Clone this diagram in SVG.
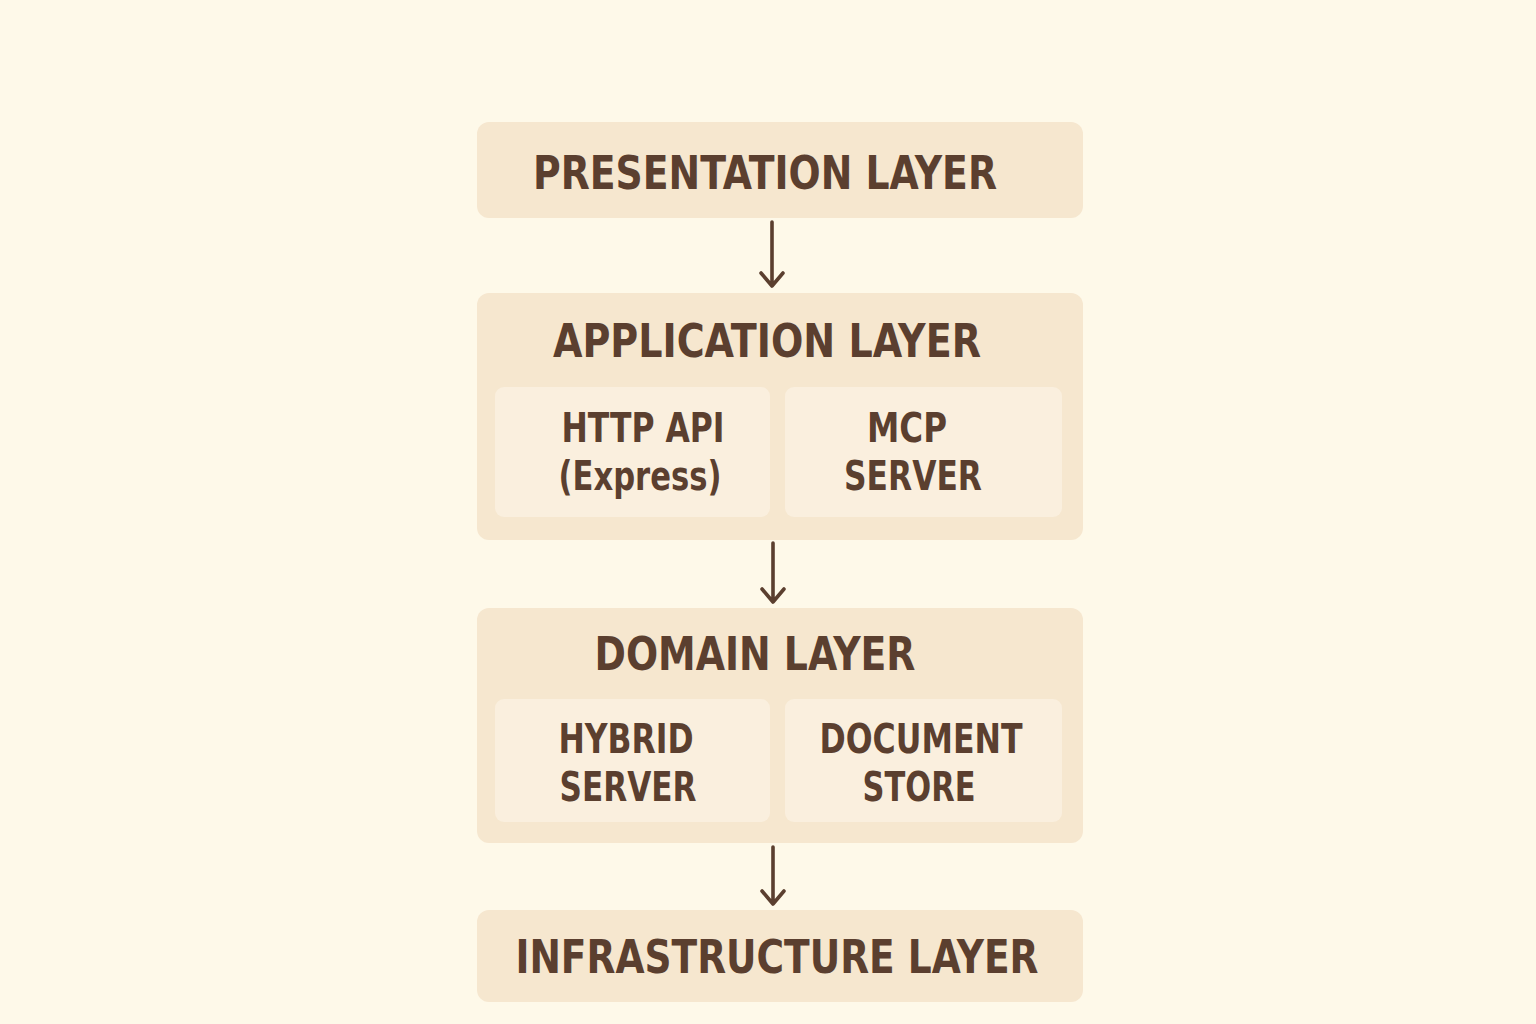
<svg xmlns="http://www.w3.org/2000/svg" width="1536" height="1024" viewBox="0 0 1536 1024">
<defs>
<style>
.bg{fill:#FEF9E9}
.outer{fill:#F6E7CF}
.inner{fill:#FAEFDE}
.t{font-family:"DejaVu Sans Condensed","DejaVu Sans",sans-serif;font-weight:bold;fill:#5B3F2F;text-anchor:middle}
.big{font-size:47px}
.sm{font-size:41px}
.conn{stroke:#5B3F2F;stroke-width:3.6;fill:none;stroke-linecap:round;stroke-linejoin:round}
</style>
</defs>
<rect class="bg" x="0" y="0" width="1536" height="1024"/>
<g id="presentation">
<rect class="outer" x="477" y="122" width="606" height="96" rx="12"/>
<text class="t big" x="765" y="189" textLength="464" lengthAdjust="spacingAndGlyphs">PRESENTATION LAYER</text>
</g>
<g id="application">
<rect class="outer" x="477" y="293" width="606" height="247" rx="12"/>
<text class="t big" x="767" y="357" textLength="428" lengthAdjust="spacingAndGlyphs">APPLICATION LAYER</text>
<g id="http-api">
<rect class="inner" x="495" y="387" width="275" height="130" rx="9"/>
<text class="t sm" x="643" y="442" textLength="163" lengthAdjust="spacingAndGlyphs">HTTP API</text>
<text class="t sm" x="640" y="490" textLength="163" lengthAdjust="spacingAndGlyphs">(Express)</text>
</g>
<g id="mcp-server">
<rect class="inner" x="785" y="387" width="277" height="130" rx="9"/>
<text class="t sm" x="907" y="442" textLength="80" lengthAdjust="spacingAndGlyphs">MCP</text>
<text class="t sm" x="913" y="490" textLength="138" lengthAdjust="spacingAndGlyphs">SERVER</text>
</g>
</g>
<g id="domain">
<rect class="outer" x="477" y="608" width="606" height="235" rx="12"/>
<text class="t big" x="755" y="670" textLength="321" lengthAdjust="spacingAndGlyphs">DOMAIN LAYER</text>
<g id="hybrid-server">
<rect class="inner" x="495" y="699" width="275" height="123" rx="9"/>
<text class="t sm" x="626" y="753" textLength="135" lengthAdjust="spacingAndGlyphs">HYBRID</text>
<text class="t sm" x="628" y="801" textLength="137" lengthAdjust="spacingAndGlyphs">SERVER</text>
</g>
<g id="document-store">
<rect class="inner" x="785" y="699" width="277" height="123" rx="9"/>
<text class="t sm" x="921" y="753" textLength="203" lengthAdjust="spacingAndGlyphs">DOCUMENT</text>
<text class="t sm" x="919" y="801" textLength="113" lengthAdjust="spacingAndGlyphs">STORE</text>
</g>
</g>
<g id="infrastructure">
<rect class="outer" x="477" y="910" width="606" height="92" rx="12"/>
<text class="t big" x="777" y="973" textLength="523" lengthAdjust="spacingAndGlyphs">INFRASTRUCTURE LAYER</text>
</g>
<g id="connectors">
<path class="conn" d="M772 222 V286 M761 273 L772 286 L783 273"/>
<path class="conn" d="M773 543 V602 M762 589 L773 602 L784 589"/>
<path class="conn" d="M773 847 V904 M762 891 L773 904 L784 891"/>
</g>
</svg>
